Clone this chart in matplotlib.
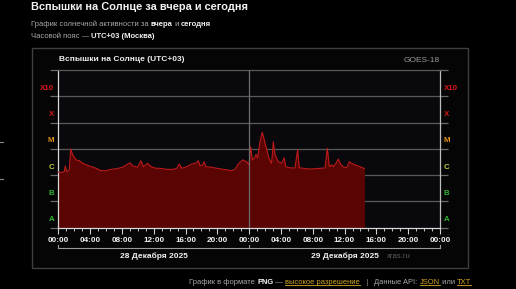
import numpy as np
import matplotlib
matplotlib.use("Agg")
import matplotlib.pyplot as plt
from matplotlib.lines import Line2D
from matplotlib.patches import Rectangle
import matplotlib.transforms as mtransforms

FONT = ["Liberation Sans", "DejaVu Sans"]
plt.rcParams['font.family'] = FONT

# GOES X-ray flux, hours since 28 Dec 00:00 (UTC+03), log10(W/m^2)
hours = [0.0, 0.4, 0.75, 0.88, 1.05, 1.38, 1.56, 1.81, 2.23, 2.64, 3.07, 3.90, 4.74, 5.37,
         6.0, 6.63, 7.26, 8.10, 8.73, 9.02, 9.36, 9.98, 10.40, 10.69, 11.24, 11.66, 12.29,
         12.79, 13.63, 14.46, 14.89, 15.22, 15.52, 16.15, 16.77, 17.40, 17.60, 17.82, 18.16,
         18.32, 18.57, 19.29, 19.92, 20.75, 21.80, 22.22, 22.63, 23.19, 23.69, 23.98,
         24.19, 24.40, 24.65, 24.86, 25.07, 25.36, 25.65, 25.90, 26.21, 26.49, 26.83, 27.04,
         27.25, 27.66, 28.09, 28.42, 28.59, 29.13, 29.76, 30.10, 30.30, 30.81, 31.65, 32.91,
         33.54, 33.83, 34.08, 34.38, 34.58, 34.92, 35.21, 35.51, 35.84, 36.27, 36.59, 36.89,
         37.31, 37.94, 38.50]
flux_log = [-5.88, -5.90, -5.87, -5.65, -5.87, -5.80, -5.00, -5.23, -5.42, -5.45, -5.55, -5.65,
            -5.74, -5.83, -5.83, -5.78, -5.76, -5.70, -5.58, -5.53, -5.65, -5.70, -5.45, -5.68,
            -5.55, -5.68, -5.74, -5.74, -5.78, -5.78, -5.74, -5.58, -5.74, -5.68, -5.58, -5.53,
            -5.45, -5.65, -5.61, -5.49, -5.68, -5.70, -5.74, -5.78, -5.83, -5.78, -5.58, -5.42,
            -5.49, -5.61,
            -4.92, -5.42, -5.36, -5.21, -5.35, -4.73, -4.37, -4.66, -5.04, -5.36, -5.55, -4.73,
            -5.23, -5.49, -5.55, -5.34, -5.68, -5.72, -5.73, -5.04, -5.72, -5.74, -5.77, -5.74,
            -5.73, -4.98, -5.68, -5.61, -5.68, -5.55, -5.39, -5.59, -5.68, -5.72, -5.49, -5.55,
            -5.61, -5.68, -5.75]

# flare classes (lower bound exponent) and their colours
classes = ["A", "B", "C", "M", "X", "X10"]
class_levels = [-8, -7, -6, -5, -4, -3]
class_colors = ["#2fb62f", "#2fb62f", "#c5cf45", "#e0901a", "#d81818", "#d81818"]

tick_labels = ["00:00", "04:00", "08:00", "12:00", "16:00", "20:00",
               "00:00", "04:00", "08:00", "12:00", "16:00", "20:00", "00:00"]
day_labels = ["28 Декабря 2025", "29 Декабря 2025"]

W, H = 516, 289
fig = plt.figure(figsize=(W / 100, H / 100), dpi=100)
fig.patch.set_facecolor("black")


def px(x, y):
    # pixel position (top-left origin) -> figure fraction
    return x / W, 1 - y / H


# Header texts (mixed weights laid out one piece after the other)
def text_run(x, y, parts, size):
    renderer = fig.canvas.get_renderer()
    fx, fy = px(x, y)
    out = []
    for txt, color, weight in parts:
        t = fig.text(fx, fy, txt, color=color, fontsize=size, fontweight=weight,
                     ha="left", va="center")
        bb = t.get_window_extent(renderer)
        out.append((t, bb))
        fx += bb.width / W
    return out


text_run(31, 7.5, [("Вспышки на Солнце за вчера и сегодня", "#f2f2f2", "bold")], 7.95)
text_run(31, 24.5, [("График солнечной активности за ", "#a8a8a8", "normal"),
                    ("вчера", "#f0f0f0", "bold"), (" и ", "#a8a8a8", "normal"),
                    ("сегодня", "#f0f0f0", "bold")], 5.5)
text_run(31, 36, [("Часовой пояс — ", "#a8a8a8", "normal"),
                  ("UTC+03 (Москва)", "#f0f0f0", "bold")], 5.5)

# Panel frame
x0, y0 = px(31.5, 268)
x1, y1 = px(468, 48)
fig.add_artist(Rectangle((x0, y0), x1 - x0, y1 - y0, transform=fig.transFigure,
                         facecolor="#050505", edgecolor="#3f3f3f", lw=1.0, zorder=0))

# stray marks on the left edge
for yy in (141.7, 179.3):
    a, b = px(0, yy)
    fig.add_artist(Line2D([0, 2.5 / W], [b, b], color="#8a8a8a", lw=0.8,
                          transform=fig.transFigure))

# Plot axes
left, bottom = px(58.3, 227.7)
right, top = px(440, 70)
ax = fig.add_axes([left, bottom, right - left, top - bottom])
ax.set_facecolor("#09080c")
ax.set_xlim(0, 48)
ax.set_ylim(-8, -2)

ax.fill_between(hours, flux_log, -8, color="#5a0404", lw=0, zorder=2)
ax.plot(hours, flux_log, color="#bf1a1a", lw=0.8, zorder=3)

# class gridlines and outer ticks
ax.set_yticks(range(-8, -1))
ax.set_yticklabels([])
ax.tick_params(axis="y", which="major", length=6, width=0.9, color="#6a6a6a",
               direction="out", left=True, right=True)
for lv in range(-7, -2):
    ax.axhline(lv, color="#5a5a5a", lw=0.9, zorder=1)

# class labels on both sides
trans_l = mtransforms.blended_transform_factory(fig.transFigure, ax.transData)
for name, lv, col in zip(classes, class_levels, class_colors):
    ax.text(54.3 / W, lv + 0.3, name, transform=trans_l, ha="right", va="center",
            color=col, fontsize=5.7, fontweight="bold")
    ax.text(444 / W, lv + 0.3, name, transform=trans_l, ha="left", va="center",
            color=col, fontsize=5.7, fontweight="bold")

# day divider
ax.axvline(24, color="#6e6e6e", lw=0.9, zorder=4)

# x axis
ax.set_xticks(np.arange(0, 49, 4))
ax.set_xticklabels(tick_labels, color="#f0f0f0", fontsize=5.9, fontweight="bold")
ax.set_xticks(np.arange(0, 49, 1), minor=True)
ax.tick_params(axis="x", which="major", length=4, width=0.8, color="#cfcfcf", pad=3)
ax.tick_params(axis="x", which="minor", length=2.5, width=0.7, color="#bfbfbf")

for side in ("left", "bottom"):
    ax.spines[side].set_color("#d8d8d8")
    ax.spines[side].set_linewidth(0.9)
ax.spines["right"].set_color("#bdbdbd")
ax.spines["right"].set_linewidth(0.9)
ax.spines["top"].set_color("#5a5a5a")
ax.spines["top"].set_linewidth(0.9)

# date bracket under the hours
trans_x = mtransforms.blended_transform_factory(ax.transData, ax.transAxes)
yb = (227.7 - 248.3) / (227.7 - 70)
yt = yb + 3.5 / (227.7 - 70)
ax.add_line(Line2D([0, 48], [yb, yb], color="#9a9a9a", lw=0.8, transform=trans_x,
                   clip_on=False))
for xx in (0, 24, 48):
    ax.add_line(Line2D([xx, xx], [yb, yt], color="#9a9a9a", lw=0.8, transform=trans_x,
                       clip_on=False))
yd = (227.7 - 256) / (227.7 - 70)
for i, lab in enumerate(day_labels):
    ax.text(12 + 24 * i, yd, lab, transform=trans_x, ha="center", va="center",
            color="#f0f0f0", fontsize=6.0, fontweight="bold", clip_on=False)
ax.text(44.3, yd, "xras.ru", transform=trans_x, ha="right", va="center",
        color="#5c5c5c", fontsize=5.6, clip_on=False)

# panel title and satellite
fig.text(*px(59, 59.5), "Вспышки на Солнце (UTC+03)", color="#eeeeee",
         fontsize=6.0, fontweight="bold", ha="left", va="center")
fig.text(*px(440, 60), "GOES-18", color="#9a9a9a", fontsize=6.0,
         ha="right", va="center")

# footer with links
gold = "#d2a822"
pieces = text_run(189, 282.5, [("График в формате ", "#a8a8a8", "normal"),
                               ("PNG", "#f0f0f0", "bold"),
                               (" — ", "#a8a8a8", "normal"),
                               ("высокое разрешение", gold, "normal"),
                               ("   |   ", "#8a8a8a", "normal"),
                               ("Данные API: ", "#a8a8a8", "normal"),
                               ("JSON", gold, "normal"),
                               (" или ", "#a8a8a8", "normal"),
                               ("TXT", gold, "normal")], 5.4)
for t, bb in pieces:
    if t.get_color() == gold:
        fx0, fx1 = bb.x0 / W, bb.x1 / W
        fy = (bb.y0 + 0.8) / H
        fig.add_artist(Line2D([fx0, fx1], [fy, fy], color=gold, lw=0.6,
                              transform=fig.transFigure))

fig.savefig("out.png", dpi=100, facecolor="black")
